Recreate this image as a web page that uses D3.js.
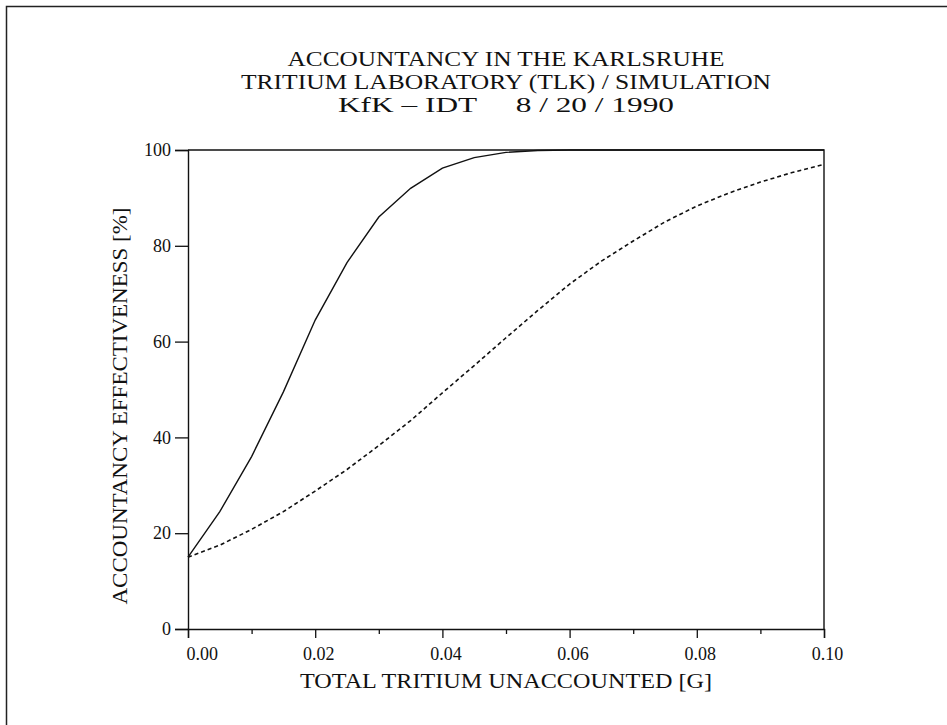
<!DOCTYPE html>
<html>
<head>
<meta charset="utf-8">
<script src="https://cdn.jsdelivr.net/npm/d3@7"></script>
<style>
  body { margin: 0; background: #fff; }
  text { font-family: "Liberation Serif", "DejaVu Serif", serif; fill: #111; }
</style>
</head>
<body>
<div id="chart"></div>
<script>
// tritium unaccounted [g]
const amounts = [0, 0.005, 0.01, 0.015, 0.02, 0.025, 0.03, 0.035, 0.04, 0.045, 0.05,
                 0.055, 0.06, 0.065, 0.07, 0.075, 0.08, 0.085, 0.09, 0.095, 0.1];
// effectiveness [%], solid curve
const solidPct = [15, 24.5, 36, 49.5, 64.5, 76.5, 86, 92, 96.2, 98.4, 99.5,
                  99.9, 100, 100, 100, 100, 100, 100, 100, 100, 100];
// effectiveness [%], dashed curve
const dashedPct = [15, 17.5, 20.8, 24.5, 28.8, 33.3, 38.3, 43.5, 49.3, 55, 60.8,
                   66.5, 72, 76.8, 81, 85, 88.3, 91, 93.3, 95.3, 97];

const xTicks = [0, 0.02, 0.04, 0.06, 0.08, 0.1];
const xMinorTicks = [0.01, 0.03, 0.05, 0.07, 0.09];
const yTicks = [0, 20, 40, 60, 80, 100];

const titleLines = ["ACCOUNTANCY IN THE KARLSRUHE",
                    "TRITIUM LABORATORY (TLK) / SIMULATION",
                    "KfK \u2013 IDT \u00a0\u00a0\u00a0 8 / 20 / 1990"];

const width = 947;
const height = 725;
const margin = { top: 150, right: 123, bottom: 96, left: 188 };

const svg = d3.select('#chart')
    .append('svg')
    .attr('width', width)
    .attr('height', height);

// page frame (top and left edges of the scanned sheet)
svg.append('path')
    .attr('d', `M6.5,${height} V6.5 H${width}`)
    .attr('fill', 'none')
    .attr('stroke', '#222')
    .attr('stroke-width', 1.5);

const x = d3.scaleLinear()
    .domain([0, 0.1])
    .range([margin.left, width - margin.right]);

const y = d3.scaleLinear()
    .domain([0, 100])
    .range([height - margin.bottom, margin.top]);

// box top and right
svg.append('path')
    .attr('d', `M${x(0)},${y(100)} H${x(0.1)} V${y(0)}`)
    .attr('fill', 'none')
    .attr('stroke', '#111')
    .attr('stroke-width', 1.4);

const yAxis = svg.append('g')
    .attr('transform', `translate(${x(0)},0)`)
    .call(d3.axisLeft(y).tickValues(yTicks).tickSize(13).tickPadding(4).tickFormat(d3.format('d')));

const xAxis = svg.append('g')
    .attr('transform', `translate(0,${y(0)})`)
    .call(d3.axisBottom(x).tickValues(xTicks).tickSize(9).tickPadding(9).tickFormat(d3.format('.2f')));

svg.append('g')
    .attr('transform', `translate(0,${y(0)})`)
    .call(d3.axisBottom(x).tickValues(xMinorTicks).tickSize(5).tickFormat(''))
    .call(g => g.select('.domain').remove());

svg.selectAll('.domain').attr('stroke', '#111').attr('stroke-width', 1.4);
svg.selectAll('.tick line').attr('stroke', '#111').attr('stroke-width', 1.3);
svg.selectAll('.tick text')
    .attr('font-family', '"Liberation Serif", serif')
    .attr('font-size', 18)
    .attr('fill', '#111');

// first x label sits to the right of the axis
xAxis.selectAll('.tick text')
    .attr('text-anchor', d => d === 0 ? 'start' : 'middle')
    .attr('dx', d => d === 0 ? -2 : 3);

const line = d3.line()
    .x((d, i) => x(amounts[i]))
    .y(d => y(d));

svg.append('path')
    .datum(solidPct)
    .attr('d', line)
    .attr('fill', 'none')
    .attr('stroke', '#111')
    .attr('stroke-width', 1.4);

svg.append('path')
    .datum(dashedPct)
    .attr('d', line)
    .attr('fill', 'none')
    .attr('stroke', '#111')
    .attr('stroke-width', 1.6)
    .attr('stroke-dasharray', '4,3');

// title
const titleWidths = [437, 530, 336];
svg.append('g')
    .selectAll('text')
    .data(titleLines)
    .join('text')
        .attr('x', 506)
        .attr('y', (d, i) => 66 + i * 23)
        .attr('text-anchor', 'middle')
        .attr('font-size', 20)
        .attr('textLength', (d, i) => titleWidths[i])
        .attr('lengthAdjust', 'spacingAndGlyphs')
        .text(d => d);

svg.append('text')
    .attr('x', 506)
    .attr('y', 688)
    .attr('text-anchor', 'middle')
    .attr('font-size', 22)
    .attr('textLength', 412)
    .attr('lengthAdjust', 'spacingAndGlyphs')
    .text('TOTAL TRITIUM UNACCOUNTED [G]');

svg.append('text')
    .attr('transform', 'translate(127,406) rotate(-90)')
    .attr('text-anchor', 'middle')
    .attr('font-size', 22)
    .attr('textLength', 397)
    .attr('lengthAdjust', 'spacingAndGlyphs')
    .text('ACCOUNTANCY EFFECTIVENESS [%]');
</script>
</body>
</html>
